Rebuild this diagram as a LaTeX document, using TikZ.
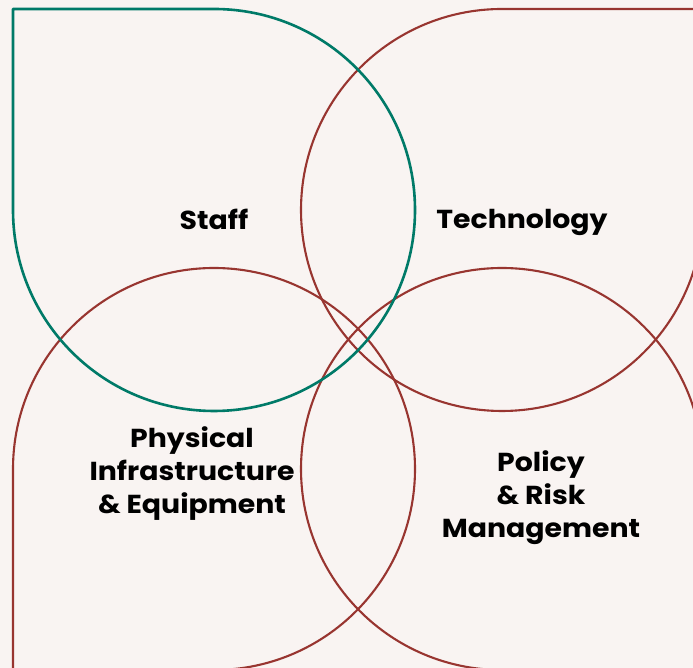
\documentclass[tikz,border=0pt]{standalone}
\usepackage{fontspec}
\setmainfont{Poppins}[FakeStretch=1.09]
\usetikzlibrary{positioning}
\definecolor{bgpink}{HTML}{F9F4F2}
\definecolor{staffgreen}{HTML}{007A68}
\definecolor{rustred}{HTML}{983530}

\begin{document}
\begin{tikzpicture}[
  x=1pt, y=1pt, line join=round,
  grn/.style ={staffgreen, line width=2.6pt},
  rust/.style={rustred, line width=2.1pt},
  lbl/.style ={font=\fontsize{26}{33}\selectfont\bfseries, align=center, inner sep=0pt}
]

\def\R{201}          % radius of each lobe
\def\W{693}          % page width
\def\H{668}          % page height

% --- page and clip
\useasboundingbox (0,0) rectangle (\W,\H);
\fill[bgpink] (0,0) rectangle (\W,\H);
\clip (0,0) rectangle (\W,\H);

% --- red lobes (square corner points outward)
\draw[rust] (502,659) -- (703,659) -- (703,458)
  arc[start angle=0, end angle=-270, radius=\R] -- cycle;
\draw[rust] (13,199) -- (13,-2) -- (214,-2)
  arc[start angle=-90, end angle=180, radius=\R] -- cycle;
\draw[rust] (703,199) -- (703,-2) -- (502,-2)
  arc[start angle=-90, end angle=-360, radius=\R] -- cycle;

% --- green lobe on top
\draw[grn] (13,458) -- (13,659) -- (214,659)
  arc[start angle=90, end angle=-180, radius=\R] -- cycle;

% labels
\node[lbl, anchor=base] (staff) at (214,438) {Staff};
\node[lbl, anchor=base] (tech)  at (522,439) {Technology};
\node[lbl] (phys)  at (192,194) {Physical\\Infrastructure\\\& Equipment};
\node[lbl] (pol)   at (541,170) {Policy\\\& Risk\\Management};

\end{tikzpicture}
\end{document}
